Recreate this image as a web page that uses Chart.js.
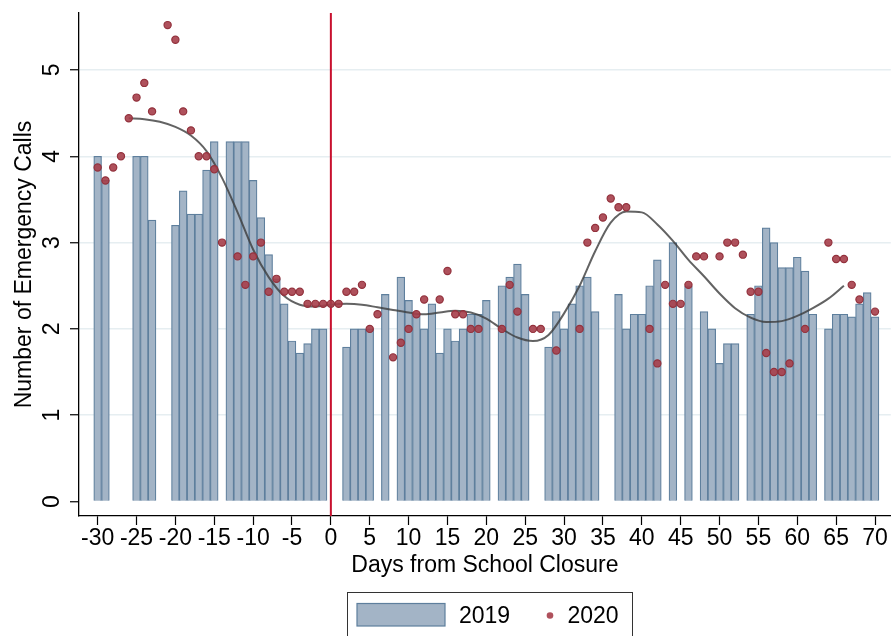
<!DOCTYPE html>
<html>
<head>
<meta charset="utf-8">
<title>Emergency calls around school closure</title>
<script src="https://cdn.jsdelivr.net/npm/chart.js@4.4.1/dist/chart.umd.min.js"></script>
<style>
  html, body { margin: 0; padding: 0; background: #fff; }
  canvas { display: block; }
</style>
</head>
<body>
<canvas id="chart" width="896" height="636"></canvas>
<script>
// 2019: daily calls (bars), days relative to school closure
const days2019 = [-30, -29, -25, -24, -23, -20, -19, -18, -17, -16, -15, -13, -12, -11, -10, -9, -8, -7, -6, -5, -4, -3, -2, -1,
  2, 3, 4, 5, 7, 9, 10, 11, 12, 13, 14, 15, 16, 17, 18, 19, 20, 22, 23, 24, 25, 28, 29, 30, 31, 32, 33, 34,
  37, 38, 39, 40, 41, 42, 44, 46, 48, 49, 50, 51, 52, 54, 55, 56, 57, 58, 59, 60, 61, 62, 64, 65, 66, 67, 68, 69, 70]
const calls2019 = [4.0, 3.72, 4.0, 4.0, 3.26, 3.2, 3.6, 3.33, 3.33, 3.84, 4.17, 4.17, 4.17, 4.17, 3.72, 3.29, 2.86, 2.58, 2.29, 1.86, 1.72, 1.83, 2.0, 2.0,
  1.79, 2.0, 2.0, 2.0, 2.4, 2.6, 2.33, 2.17, 2.0, 2.29, 1.72, 2.0, 1.86, 2.0, 2.17, 2.17, 2.33, 2.5, 2.6, 2.75, 2.4, 1.79, 2.2, 2.0, 2.29, 2.5, 2.6, 2.2,
  2.4, 2.0, 2.17, 2.17, 2.5, 2.8, 3.0, 2.5, 2.2, 2.0, 1.6, 1.83, 1.83, 2.17, 2.5, 3.17, 3.0, 2.71, 2.71, 2.83, 2.67, 2.17, 2.0, 2.17, 2.17, 2.14, 2.29, 2.42, 2.14]

// 2020: daily calls (dots)
const days2020 = [-30, -29, -28, -27, -26, -25, -24, -23, -21, -20, -19, -18, -17, -16, -15, -14, -12, -11, -10, -9, -8, -7, -6, -5, -4, -3, -2, -1,
  0, 1, 2, 3, 4, 5, 6, 8, 9, 10, 11, 12, 14, 15, 16, 17, 18, 19, 22, 23, 24, 26, 27, 29, 32, 33, 34, 35, 36, 37, 38,
  41, 42, 43, 44, 45, 46, 47, 48, 50, 51, 52, 53, 54, 55, 56, 57, 58, 59, 61, 64, 65, 66, 67, 68, 70]
const calls2020 = [3.87, 3.72, 3.87, 4.0, 4.44, 4.68, 4.85, 4.52, 5.52, 5.35, 4.52, 4.3, 4.0, 4.0, 3.85, 3.0, 2.84, 2.51, 2.84, 3.0, 2.43, 2.58, 2.43, 2.43, 2.43, 2.29, 2.29, 2.29,
  2.29, 2.29, 2.43, 2.43, 2.51, 2.0, 2.17, 1.67, 1.84, 2.0, 2.17, 2.34, 2.34, 2.67, 2.17, 2.17, 2.0, 2.0, 2.0, 2.51, 2.2, 2.0, 2.0, 1.75, 2.0, 3.0, 3.17, 3.29, 3.51, 3.41, 3.41,
  2.0, 1.6, 2.51, 2.29, 2.29, 2.51, 2.84, 2.84, 2.84, 3.0, 3.0, 2.86, 2.43, 2.43, 1.72, 1.5, 1.5, 1.6, 2.0, 3.0, 2.81, 2.81, 2.51, 2.34, 2.2]

// smoothed 2020 trend
const smoothDays = [-26, -24, -22, -20, -18, -16, -14, -12, -10, -8, -6, -4, -2, 0, 2, 4, 6, 8, 10, 12, 14, 16, 18, 20, 22, 24, 26, 28,
  30, 32, 34, 36, 38, 40, 42, 44, 46, 48, 50, 52, 54, 56, 58, 60, 62, 64, 66]
const smoothCalls = [4.44, 4.43, 4.4, 4.34, 4.24, 4.06, 3.75, 3.35, 2.92, 2.6, 2.38, 2.28, 2.26, 2.28, 2.29, 2.28, 2.25, 2.22, 2.19, 2.17, 2.19, 2.21, 2.19, 2.12, 2.0, 1.9, 1.86, 1.93,
  2.18, 2.5, 2.9, 3.23, 3.36, 3.35, 3.21, 3.02, 2.8, 2.61, 2.41, 2.24, 2.13, 2.08, 2.09, 2.15, 2.24, 2.35, 2.5]

const xTicks = [-30, -25, -20, -15, -10, -5, 0, 5, 10, 15, 20, 25, 30, 35, 40, 45, 50, 55, 60, 65, 70]
const yTicks = [0, 1, 2, 3, 4, 5]
const closureDay = 0

const FONT = "'Liberation Sans', Arial, sans-serif"
Chart.defaults.font.family = FONT
Chart.defaults.color = "#000"

// red line at the day of closure
const closureLine = {
  id: "closureLine",
  beforeDatasetsDraw(chart) {
    const { ctx, chartArea, scales: { x } } = chart
    const px = x.getPixelForValue(closureDay)
    ctx.save()
    ctx.strokeStyle = "#c8102e"
    ctx.lineWidth = 2
    ctx.beginPath()
    ctx.moveTo(px, chartArea.top)
    ctx.lineTo(px, chartArea.bottom)
    ctx.stroke()
    ctx.restore()
  }
}

// y tick labels are drawn turned on their side, like the original
const sideLabels = {
  id: "sideLabels",
  afterDraw(chart) {
    const { ctx, scales: { y } } = chart
    ctx.save()
    ctx.fillStyle = "#000"
    ctx.font = "23px " + FONT
    ctx.textAlign = "center"
    ctx.textBaseline = "alphabetic"
    y.ticks.forEach(t => {
      ctx.save()
      ctx.translate(y.right - 20, y.getPixelForValue(t.value))
      ctx.rotate(-Math.PI / 2)
      ctx.fillText(String(t.value), 0, 0)
      ctx.restore()
    })
    ctx.restore()
  }
}

// boxed legend under the axis title
const boxLegend = {
  id: "boxLegend",
  afterDraw(chart) {
    const { ctx } = chart
    const bars = chart.data.datasets[0]
    const dots = chart.data.datasets[2]
    ctx.save()
    ctx.strokeStyle = "#333"
    ctx.lineWidth = 1
    ctx.strokeRect(347.5, 592.5, 285, 60)
    ctx.fillStyle = bars.backgroundColor
    ctx.fillRect(357, 603.5, 88, 22.5)
    ctx.strokeStyle = bars.borderColor
    ctx.lineWidth = 1.2
    ctx.strokeRect(357, 603.5, 88, 22.5)
    ctx.font = "23px " + FONT
    ctx.textAlign = "left"
    ctx.textBaseline = "alphabetic"
    ctx.fillStyle = "#000"
    ctx.fillText(bars.label, 459, 623)
    ctx.beginPath()
    ctx.arc(550, 615.5, 3.3, 0, 2 * Math.PI)
    ctx.fillStyle = dots.backgroundColor
    ctx.fill()
    ctx.fillStyle = "#000"
    ctx.fillText(dots.label, 567.5, 623)
    ctx.restore()
  }
}

new Chart(document.getElementById("chart"), {
  type: "bar",
  data: {
    datasets: [
      {
        type: "bar",
        label: "2019",
        data: days2019.map((d, i) => ({ x: d, y: calls2019[i] })),
        backgroundColor: "#a3b4c6",
        borderColor: "#5e7f9d",
        borderWidth: 1.2,
        barPercentage: 1,
        categoryPercentage: 1,
        order: 3
      },
      {
        type: "line",
        label: "trend",
        data: smoothDays.map((d, i) => ({ x: d, y: smoothCalls[i] })),
        borderColor: "rgba(60, 60, 60, 0.8)",
        borderWidth: 2,
        pointRadius: 0,
        cubicInterpolationMode: "monotone",
        fill: false,
        order: 2
      },
      {
        type: "scatter",
        label: "2020",
        data: days2020.map((d, i) => ({ x: d, y: calls2020[i] })),
        backgroundColor: "rgba(166, 62, 74, 0.9)",
        borderColor: "#93323d",
        borderWidth: 1.2,
        pointRadius: 3.6,
        order: 1
      }
    ]
  },
  options: {
    responsive: false,
    animation: false,
    layout: { padding: { top: 13, right: 0, bottom: 0, left: 0 } },
    plugins: {
      legend: { display: false },
      tooltip: { enabled: false }
    },
    scales: {
      x: {
        type: "linear",
        min: -32.4,
        max: 72.03,
        offset: false,
        afterBuildTicks: s => { s.ticks = xTicks.map(v => ({ value: v })) },
        afterFit: s => { s.height = 120; s.paddingLeft = 0; s.paddingRight = 0 },
        grid: { offset: false, drawOnChartArea: false, tickLength: 9, tickColor: "#000", tickWidth: 1.2 },
        border: { display: true, color: "#000", width: 1.3 },
        ticks: {
          color: "#000",
          font: { size: 23 },
          padding: 0,
          maxRotation: 0,
          autoSkip: false,
          callback: v => String(v)
        },
        title: {
          display: true,
          text: "Days from School Closure",
          color: "#000",
          font: { size: 23 },
          padding: { top: 0, bottom: 57 }
        }
      },
      y: {
        min: -0.168,
        max: 5.66,
        afterBuildTicks: s => { s.ticks = yTicks.map(v => ({ value: v })) },
        afterFit: s => { s.width = 79; s.paddingTop = 0; s.paddingBottom = 0 },
        grid: {
          color: c => (c.tick && c.tick.value === 0 ? "rgba(0,0,0,0)" : "#e6eef1"),
          lineWidth: 1.5,
          tickLength: 9,
          tickColor: "#000",
          tickWidth: 1.2
        },
        border: { display: true, color: "#000", width: 1.3 },
        ticks: { display: false },
        title: {
          display: true,
          text: "Number of Emergency Calls",
          color: "#000",
          font: { size: 23 },
          padding: { top: 11, bottom: 0 }
        }
      }
    }
  },
  plugins: [closureLine, sideLabels, boxLegend]
})
</script>
</body>
</html>
